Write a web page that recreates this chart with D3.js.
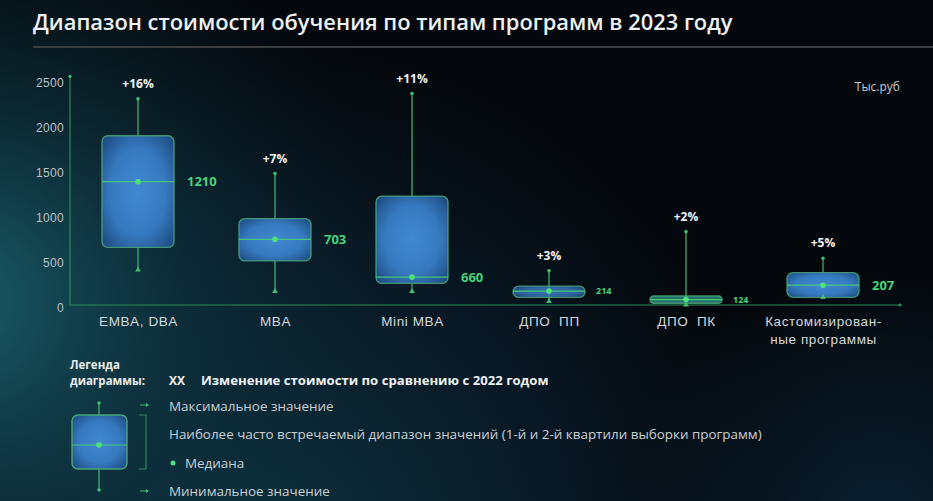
<!DOCTYPE html>
<html><head><meta charset="utf-8">
<script src="https://cdn.jsdelivr.net/npm/d3@7"></script>
<style>html,body{margin:0;padding:0;background:#04070b;overflow:hidden}svg{display:block;font-family:'Open Sans',sans-serif}text{white-space:pre}</style>
</head><body>
<svg id="c" width="933" height="501"></svg>
<script>
// ---- data ----
const categories = ["EMBA, DBA", "MBA", "Mini MBA", "ДПО  ПП", "ДПО  ПК", "Кастомизирован-|ные программы"];
const maxValues   = [2290, 1460, 2350, 380, 815, 520];
const q3Values    = [1880, 960, 1210, 210, 100, 360];
const medianPos   = [1370, 730, 310, 155, 60, 220];
const q1Values    = [640, 490, 240, 85, 20, 85];
const minValues   = [380, 140, 140, 30, -10, 75];
const medianLabels = ["1210", "703", "660", "214", "124", "207"];
const changeLabels = ["+16%", "+7%", "+11%", "+3%", "+2%", "+5%"];
const yTicks = [0, 500, 1000, 1500, 2000, 2500];
const title = "Диапазон стоимости обучения по типам программ в 2023 году";
const unitLabel = "Тыс.руб";
const legendTitle = ["Легенда", "диаграммы:"];
const legendItems = ["Максимальное значение", "Наиболее часто встречаемый диапазон значений (1-й и 2-й квартили выборки программ)", "Медиана", "Минимальное значение"];
const legendChange = ["XX", "Изменение стоимости по сравнению с 2022 годом"];

// ---- drawing ----
const svg = d3.select("#c");
const defs = svg.append("defs");
const W = 933, H = 501;

const g1 = defs.append("radialGradient").attr("id","glowL").attr("cx",-40).attr("cy",300).attr("r",430).attr("gradientUnits","userSpaceOnUse");
g1.append("stop").attr("offset",0).attr("stop-color","#1b6470").attr("stop-opacity",0.95);
g1.append("stop").attr("offset",0.5).attr("stop-color","#0f3b47").attr("stop-opacity",0.55);
g1.append("stop").attr("offset",1).attr("stop-color","#0a2430").attr("stop-opacity",0);
const g2 = defs.append("radialGradient").attr("id","glowB").attr("cx",250).attr("cy",560).attr("r",560).attr("gradientUnits","userSpaceOnUse");
g2.append("stop").attr("offset",0).attr("stop-color","#0f3a48").attr("stop-opacity",0.9);
g2.append("stop").attr("offset",0.6).attr("stop-color","#0b2233").attr("stop-opacity",0.6);
g2.append("stop").attr("offset",1).attr("stop-color","#07111b").attr("stop-opacity",0);
const g3 = defs.append("radialGradient").attr("id","glowR").attr("cx",880).attr("cy",520).attr("r",260).attr("gradientUnits","userSpaceOnUse");
g3.append("stop").attr("offset",0).attr("stop-color","#0d2a40").attr("stop-opacity",0.7);
g3.append("stop").attr("offset",1).attr("stop-color","#0d2a40").attr("stop-opacity",0);

svg.append("rect").attr("width",W).attr("height",H).attr("fill","#04070b");
svg.append("rect").attr("width",W).attr("height",H).attr("fill","url(#glowB)");
svg.append("rect").attr("width",W).attr("height",H).attr("fill","url(#glowL)");
svg.append("rect").attr("width",W).attr("height",H).attr("fill","url(#glowR)");

const bg = defs.append("radialGradient").attr("id","boxFill").attr("cx","50%").attr("cy","50%").attr("r","65%");
bg.append("stop").attr("offset",0).attr("stop-color","#4189d2");
bg.append("stop").attr("offset",0.6).attr("stop-color","#3679bf");
bg.append("stop").attr("offset",1).attr("stop-color","#1f4f86");

function fitText(sel, target){
  const fs = +sel.attr("font-size");
  const w = sel.node().getComputedTextLength();
  sel.attr("font-size", fs*target/w);
  return fs*target/w;
}

// title
const t = svg.append("text").attr("x",33).attr("y",30).attr("fill","#eef1f3")
  .attr("font-size",21).attr("font-weight",600).text(title);
fitText(t, 700);
svg.append("rect").attr("x",33).attr("y",46).attr("width",W-33).attr("height",2).attr("fill","#3a3d40");

const GREEN = "#3fbf6e", GREEN_DIM = "#2e8a58", LIGHT = "#4fe07e";

const y = d3.scaleLinear().domain([0,2500]).range([305,80]);
const x = d3.scalePoint().domain(categories).range([138,823]);
const boxW = 72;

// axes
const yAxis = d3.axisLeft(y).tickValues(yTicks).tickSize(0).tickPadding(6).tickFormat(d3.format("d"));
const ya = svg.append("g").attr("transform","translate(70,0)").call(yAxis);
ya.select(".domain").remove();
ya.selectAll("text").attr("fill","#b9c2c8").attr("font-size",12).attr("letter-spacing",0.3).attr("dy","0.5em");

const axisLine = d3.line();
svg.append("path").attr("d",axisLine([[70,y(2540)],[70,y(0)],[900,y(0)]])).attr("fill","none").attr("stroke",GREEN_DIM).attr("stroke-width",1.2);
svg.append("circle").attr("cx",70).attr("cy",y(2540)).attr("r",1.6).attr("fill",GREEN);
svg.append("circle").attr("cx",900).attr("cy",y(0)).attr("r",1.6).attr("fill",GREEN_DIM);

const xAxis = d3.axisBottom(x).tickSize(0).tickPadding(0);
const xa = svg.append("g").attr("transform",`translate(0,${y(0)})`).call(xAxis);
xa.select(".domain").remove();
xa.selectAll("text").each(function(d){
  const el = d3.select(this).text(null).attr("fill","#d3d8dc").attr("font-size",13.5).attr("letter-spacing",0.6).attr("y",21);
  d.split("|").forEach((s,i)=> el.append("tspan").attr("x",0).attr("dy", i? 18 : 0).text(s));
});

svg.append("text").attr("x",900).attr("y",91).attr("text-anchor","end").attr("fill","#c6ccd1").attr("font-size",12).text(unitLabel);

// boxes
categories.forEach((c,i)=>{
  const cx = x(c);
  const g = svg.append("g");
  g.append("line").attr("x1",cx).attr("x2",cx).attr("y1",y(maxValues[i])).attr("y2",y(minValues[i])).attr("stroke",GREEN).attr("stroke-width",1.2);
  const top = y(q3Values[i]), bot = y(q1Values[i]);
  const h = bot-top;
  g.append("rect").attr("x",cx-boxW/2).attr("y",top).attr("width",boxW).attr("height",h)
    .attr("rx",Math.min(6,h/2)).attr("fill",h<10?"#2c8a80":"url(#boxFill)").attr("fill-opacity",h<15?0.8:1)
    .attr("stroke","#4aa57a").attr("stroke-opacity",0.85).attr("stroke-width",1.4);
  const my = y(medianPos[i]);
  g.append("line").attr("x1",cx-boxW/2).attr("x2",cx+boxW/2).attr("y1",my).attr("y2",my).attr("stroke","#48c77a").attr("stroke-width",1.2);
  g.append("circle").attr("cx",cx).attr("cy",my).attr("r",2.8).attr("fill",LIGHT);
  g.append("circle").attr("cx",cx).attr("cy",y(maxValues[i])).attr("r",1.8).attr("fill",GREEN);
  g.append("path").attr("d",d3.symbol(d3.symbolTriangle,14)()).attr("transform",`translate(${cx},${y(minValues[i])-1})`).attr("fill",GREEN);
  const small = h<15;
  g.append("text").attr("x",cx+boxW/2+ (small?11:13)).attr("y",my).attr("dy","0.36em")
    .attr("fill","#46d47a").attr("font-weight",700).attr("font-size",small?9:13).text(medianLabels[i]);
  g.append("text").attr("x",cx).attr("y",y(maxValues[i])-11).attr("text-anchor","middle")
    .attr("fill","#f2f4f5").attr("font-weight",700).attr("font-size",12).text(changeLabels[i]);
});

// legend
const lg = svg.append("g");
legendTitle.forEach((s,i)=> lg.append("text").attr("x",70).attr("y",369+i*16).attr("fill","#e8ecef").attr("font-weight",700).attr("font-size",11.5).text(s));
lg.append("text").attr("x",169).attr("y",385).attr("fill","#eef1f3").attr("font-weight",700).attr("font-size",12).text(legendChange[0]);
const lc = lg.append("text").attr("x",201).attr("y",385).attr("fill","#eef1f3").attr("font-weight",700).attr("font-size",12).text(legendChange[1]);
fitText(lc, 348);
// legend box
const lx = 99;
lg.append("line").attr("x1",lx).attr("x2",lx).attr("y1",403).attr("y2",490).attr("stroke",GREEN).attr("stroke-width",1.2);
lg.append("rect").attr("x",72).attr("y",415).attr("width",55).attr("height",54).attr("rx",6)
  .attr("fill","url(#boxFill)").attr("stroke","#4aa57a").attr("stroke-width",1.4);
lg.append("line").attr("x1",72).attr("x2",127).attr("y1",445).attr("y2",445).attr("stroke","#48c77a").attr("stroke-width",1.2);
lg.append("circle").attr("cx",lx).attr("cy",445).attr("r",2.8).attr("fill",LIGHT);
lg.append("circle").attr("cx",lx).attr("cy",403).attr("r",1.8).attr("fill",GREEN);
lg.append("circle").attr("cx",lx).attr("cy",490).attr("r",1.8).attr("fill",GREEN);
lg.append("path").attr("d","M139,415 H146 V469 H139").attr("fill","none").attr("stroke",GREEN_DIM).attr("stroke-width",1.2);
[405,491].forEach(yy=>{
  lg.append("line").attr("x1",140).attr("x2",146).attr("y1",yy).attr("y2",yy).attr("stroke",GREEN).attr("stroke-width",1);
  lg.append("path").attr("d",`M146,${yy-2} L149,${yy} L146,${yy+2} Z`).attr("fill",GREEN);
});
const itemY = [406, 434, 463, 491];
const it1 = lg.append("text").attr("x",169).attr("y",itemY[1]).attr("dy","0.35em").attr("fill","#c9d0d5").attr("font-size",12.5).text(legendItems[1]);
const fs = fitText(it1, 593);
lg.append("text").attr("x",169).attr("y",itemY[0]).attr("dy","0.35em").attr("fill","#c9d0d5").attr("font-size",fs).text(legendItems[0]);
lg.append("circle").attr("cx",173).attr("cy",itemY[2]).attr("r",2.5).attr("fill",LIGHT);
lg.append("text").attr("x",185).attr("y",itemY[2]).attr("dy","0.35em").attr("fill","#c9d0d5").attr("font-size",fs).text(legendItems[2]);
lg.append("text").attr("x",169).attr("y",itemY[3]).attr("dy","0.35em").attr("fill","#c9d0d5").attr("font-size",fs).text(legendItems[3]);
</script>
</body></html>
